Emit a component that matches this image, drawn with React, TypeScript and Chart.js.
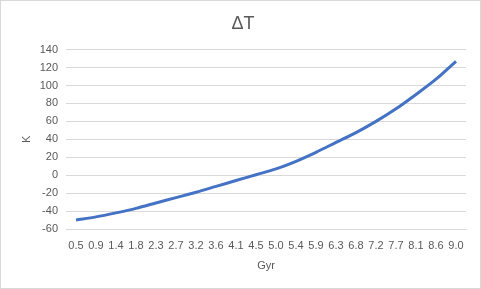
import React, { useEffect, useRef } from "react";
import { Chart, registerables } from "chart.js";

Chart.register(...registerables);

const categories = ["0.5", "0.9", "1.4", "1.8", "2.3", "2.7", "3.2", "3.6", "4.1", "4.5", "5.0", "5.4", "5.9", "6.3", "6.8", "7.2", "7.7", "8.1", "8.6", "9.0"];
const deltaT = [-50, -46.5, -42, -37, -31, -25, -19, -12.5, -6, 0.5, 7, 15.5, 25.5, 36.5, 47.5, 60, 74, 90, 107, 127];
const yMin = -60;
const yMax = 140;
const yStep = 20;

const FONT = "'Liberation Sans', Arial, sans-serif";
const TEXT = "#595959";

export default function App() {
  const ref = useRef<HTMLCanvasElement | null>(null);

  useEffect(() => {
    document.body.style.margin = "0";
    const canvas = ref.current;
    if (!canvas) return;
    const chart = new Chart(canvas, {
      type: "line",
      data: {
        labels: categories,
        datasets: [
          {
            label: "ΔT",
            data: deltaT,
            borderColor: "#4472C4",
            backgroundColor: "#4472C4",
            borderWidth: 3,
            pointRadius: 0,
            cubicInterpolationMode: "monotone",
            fill: false,
          },
        ],
      },
      options: {
        responsive: false,
        animation: false,
        layout: { padding: { left: 20, right: 15, top: 1, bottom: 16 } },
        plugins: {
          legend: { display: false },
          tooltip: { enabled: false },
          title: {
            display: true,
            text: "ΔT",
            color: TEXT,
            font: { family: FONT, size: 18, weight: "normal" },
            padding: { top: 12, bottom: 15 },
          },
        },
        scales: {
          x: {
            type: "category",
            offset: true,
            grid: { display: false, drawTicks: false },
            border: { display: true, color: "#d9d9d9", width: 1 },
            ticks: {
              color: TEXT,
              font: { family: FONT, size: 11 },
              padding: 10,
              maxRotation: 0,
              autoSkip: false,
            },
            title: {
              display: true,
              text: "Gyr",
              color: TEXT,
              font: { family: FONT, size: 11 },
              padding: { top: 6, bottom: 0 },
            },
            afterFit: (scale: any) => {
              scale.height = 44;
            },
          },
          y: {
            min: yMin,
            max: yMax,
            grid: { color: "#d9d9d9", drawTicks: false },
            border: { display: false },
            ticks: {
              stepSize: yStep,
              color: TEXT,
              font: { family: FONT, size: 11 },
              padding: 8,
            },
            title: {
              display: true,
              text: "K",
              color: TEXT,
              font: { family: FONT, size: 11 },
              padding: { top: 0, bottom: 0 },
            },
            afterFit: (scale: any) => {
              scale.width = 46;
            },
          },
        },
      },
    });
    return () => chart.destroy();
  }, []);

  return (
    <div style={{ position: "relative", width: 481, height: 289, background: "#fff" }}>
      <canvas ref={ref} width={481} height={289} style={{ position: "absolute", left: 0, top: 0 }} />
      <div
        style={{
          position: "absolute",
          left: 0,
          top: 0,
          width: 481,
          height: 289,
          boxSizing: "border-box",
          border: "1px solid #d9d9d9",
          pointerEvents: "none",
        }}
      />
    </div>
  );
}
